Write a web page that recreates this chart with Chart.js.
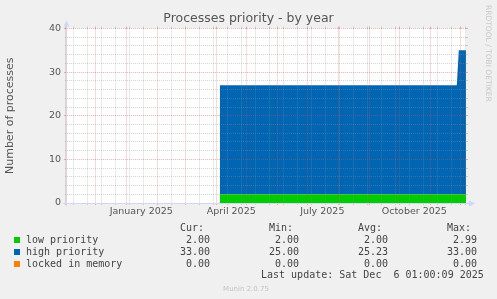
<!DOCTYPE html>
<html lang="en">
<head>
<meta charset="UTF-8">
<script src="https://cdn.jsdelivr.net/npm/chart.js"></script>
<style>
  html, body { margin: 0; padding: 0; background: #f0f0f0; }
  canvas { display: block; }
</style>
</head>
<body>
<canvas id="chart" width="497" height="299"></canvas>
<script>
// x values are days counted from 1 Nov 2024
const days = [154.5, 391.5, 393.5, 400.7];
const lowPriority = [2, 2, 2, 2];
const highPriority = [25, 25, 33, 33];
const lockedInMemory = [0, 0, 0, 0];

const seriesNames = ['low priority', 'high priority', 'locked in memory'];
const seriesColors = ['#00cc00', '#0066b3', '#ff8000'];
const curValues = ['2.00', '33.00', '0.00'];
const minValues = ['2.00', '25.00', '0.00'];
const avgValues = ['2.00', '25.23', '0.00'];
const maxValues = ['2.99', '33.00', '0.00'];
const lastUpdate = 'Last update: Sat Dec  6 01:00:09 2025';

// first day of each month, Nov 2024 .. Dec 2025
const monthStarts = [0, 30, 61, 92, 120, 151, 181, 212, 242, 273, 304, 334, 365, 395];
const labelDays = [76, 166, 257, 349];
const labelTexts = ['January 2025', 'April 2025', 'July 2025', 'October 2025'];
const yTicks = [0, 10, 20, 30, 40];

const X_MAX = 400.7;
const X_MIN = X_MAX - 399;

const GRID = 'rgba(143,143,143,0.38)';
const MGRID = 'rgba(222,79,79,0.42)';
const AXIS = '#cfd6f8';
const FONT = "'DejaVu Sans', sans-serif";

function minorX() {
  const out = [];
  for (let d = 8; d < X_MAX; d += 14) {
    if (!monthStarts.includes(d)) out.push(d);
  }
  return out;
}
function minorY() {
  const out = [];
  for (let v = 0; v <= 40; v += 2) {
    if (v % 10 !== 0) out.push(v);
  }
  return out;
}

// a scale that only draws grid lines / tick marks
function gridScale(axis, position, color, ticksFn, onArea, size, weight) {
  const isX = axis === 'x';
  return {
    type: 'linear', axis: axis, position: position,
    min: isX ? X_MIN : 0, max: isX ? X_MAX : 40,
    weight: weight || 0,
    afterBuildTicks: s => { s.ticks = ticksFn().map(v => ({ value: v })); },
    afterFit: s => { if (isX) s.height = size || 0; else s.width = size || 0; },
    ticks: { display: false },
    border: { display: false, dash: [1, 1] },
    grid: { z: 1, color: color, tickColor: color, drawOnChartArea: onArea, tickLength: 2, tickBorderDash: [] }
  };
}

const scales = {
  xMinor: gridScale('x', 'bottom', GRID, minorX, true),
  xMinorTop: gridScale('x', 'top', GRID, minorX, false),
  x: gridScale('x', 'bottom', MGRID, () => monthStarts, true),
  xMajorTop: gridScale('x', 'top', MGRID, () => monthStarts, false),
  xLabels: {
    type: 'linear', position: 'bottom', min: X_MIN, max: X_MAX, weight: 1,
    afterBuildTicks: s => { s.ticks = labelDays.map(v => ({ value: v })); },
    afterFit: s => { s.height = 96; },
    ticks: {
      callback: v => labelTexts[labelDays.indexOf(v)],
      font: { family: FONT, size: 9.5 }, color: '#555', padding: 3, maxRotation: 0, autoSkip: false
    },
    border: { display: false },
    grid: { display: false, drawTicks: false }
  },
  yMinor: gridScale('y', 'left', GRID, minorY, true, 0, 0),
  yMinorRight: gridScale('y', 'right', GRID, minorY, false, 0, 0),
  y: {
    type: 'linear', position: 'left', min: 0, max: 40, stacked: true, weight: 1,
    afterBuildTicks: s => { s.ticks = yTicks.map(v => ({ value: v })); },
    afterFit: s => { s.width = 67; },
    ticks: { font: { family: FONT, size: 9.5 }, color: '#555', padding: 3 },
    border: { display: false, dash: [1, 1] },
    grid: { z: 1, color: MGRID, tickColor: MGRID, tickLength: 3, tickBorderDash: [] },
    title: { display: true, text: 'Number of processes', color: '#555',
             font: { family: FONT, size: 11 }, padding: { top: 4, bottom: 0 } }
  },
  yMajorRight: gridScale('y', 'right', MGRID, () => yTicks, false, 31, 1)
};

const background = {
  id: 'background',
  beforeDraw(chart) {
    const a = chart.chartArea;
    const ctx = chart.ctx;
    ctx.save();
    ctx.fillStyle = '#ffffff';
    ctx.fillRect(a.left, a.top - 0.5, a.right - a.left, a.bottom - a.top + 0.5);
    ctx.restore();
  }
};

const decorations = {
  id: 'decorations',
  afterDraw(chart) {
    const ctx = chart.ctx;
    const a = chart.chartArea;
    ctx.save();

    // axes with arrows
    ctx.strokeStyle = AXIS;
    ctx.fillStyle = AXIS;
    ctx.lineWidth = 1;
    ctx.beginPath();
    ctx.moveTo(a.left - 0.5, a.bottom + 3);
    ctx.lineTo(a.left - 0.5, a.top - 3);
    ctx.moveTo(a.left - 4, a.bottom + 0.5);
    ctx.lineTo(a.right + 4, a.bottom + 0.5);
    ctx.stroke();
    ctx.beginPath();
    ctx.moveTo(a.left - 0.5, a.top - 8);
    ctx.lineTo(a.left - 3.5, a.top - 2);
    ctx.lineTo(a.left + 2.5, a.top - 2);
    ctx.closePath();
    ctx.fill();
    ctx.beginPath();
    ctx.moveTo(a.right + 9, a.bottom + 0.5);
    ctx.lineTo(a.right + 3, a.bottom - 2.5);
    ctx.lineTo(a.right + 3, a.bottom + 3.5);
    ctx.closePath();
    ctx.fill();

    // legend table
    const cols = [210, 299, 388, 477];
    ctx.font = "10px 'DejaVu Sans Mono', monospace";
    ctx.textBaseline = 'alphabetic';
    ctx.fillStyle = '#444';
    ctx.textAlign = 'right';
    ['Cur:', 'Min:', 'Avg:', 'Max:'].forEach((h, i) => ctx.fillText(h, cols[i] - 6, 231));
    chart.data.datasets.forEach((ds, r) => {
      const y = 243 + r * 12;
      ctx.fillStyle = ds.backgroundColor;
      ctx.fillRect(14, y - 6, 6, 6);
      ctx.fillStyle = '#444';
      ctx.textAlign = 'left';
      ctx.fillText(ds.label, 26, y);
      ctx.textAlign = 'right';
      [curValues, minValues, avgValues, maxValues].forEach((arr, c) => ctx.fillText(arr[r], cols[c], y));
    });
    ctx.textAlign = 'left';
    ctx.fillText(lastUpdate, 261, 277.5);

    // footer and watermark
    ctx.font = "7px 'DejaVu Sans', sans-serif";
    ctx.fillStyle = '#c4c4c4';
    ctx.textAlign = 'center';
    ctx.fillText('Munin 2.0.75', 246, 291);

    ctx.font = "7.5px 'DejaVu Sans', sans-serif";
    ctx.fillStyle = '#c8c8c8';
    ctx.translate(488, 5);
    ctx.rotate(Math.PI / 2);
    ctx.textAlign = 'left';
    ctx.textBaseline = 'middle';
    ctx.fillText('RRDTOOL / TOBI OETIKER', 0, 0);
    ctx.restore();
  }
};

function toPoints(values) {
  return days.map((d, i) => ({ x: d, y: values[i] }));
}

const ctx = document.getElementById('chart').getContext('2d');
new Chart(ctx, {
  type: 'line',
  data: {
    datasets: [lowPriority, highPriority, lockedInMemory].map((vals, i) => ({
      label: seriesNames[i],
      data: toPoints(vals),
      backgroundColor: seriesColors[i],
      borderColor: seriesColors[i],
      borderWidth: 0,
      pointRadius: 0,
      fill: i === 0 ? 'origin' : '-1',
      xAxisID: 'x',
      yAxisID: 'y'
    }))
  },
  options: {
    responsive: false,
    animation: false,
    layout: { padding: { left: 0, right: 0, top: 0, bottom: 0 } },
    plugins: {
      legend: { display: false },
      tooltip: { enabled: false },
      title: {
        display: true, text: 'Processes priority - by year', color: '#555',
        font: { family: FONT, size: 12.5, weight: 'normal', lineHeight: 1.2 },
        padding: { top: 11.5, bottom: 2 }
      }
    },
    scales: scales
  },
  plugins: [background, decorations]
});
</script>
</body>
</html>
